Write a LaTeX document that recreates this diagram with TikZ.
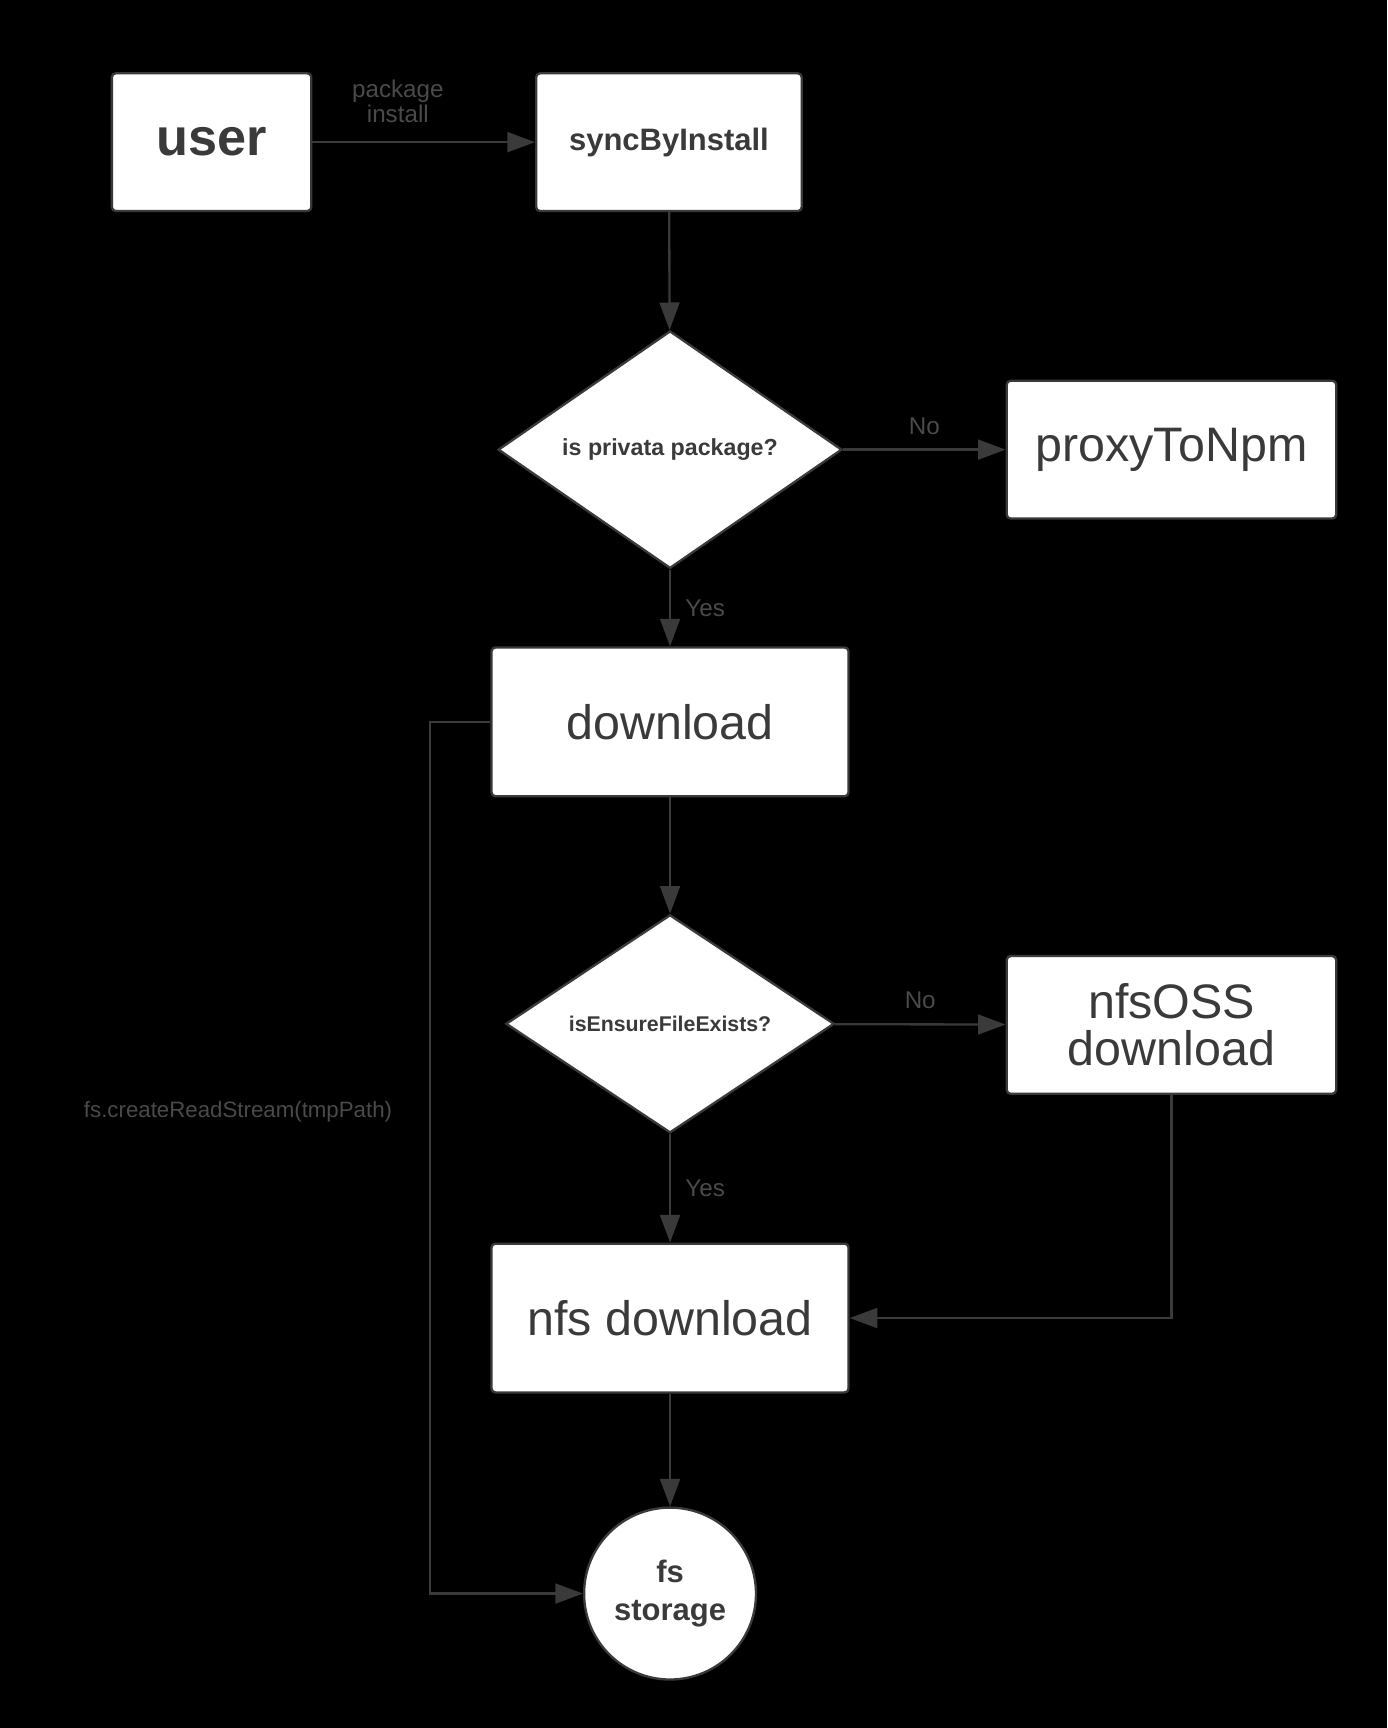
\documentclass[tikz,border=0pt]{standalone}
\usepackage{fontspec}
\setmainfont{Liberation Sans}
\usetikzlibrary{shapes.geometric,arrows.meta,positioning}
\definecolor{edge}{HTML}{3A3A3A}
\definecolor{labelgray}{HTML}{4A4A4A}
\tikzset{
  box/.style={draw=edge,line width=1.2pt,fill=white,rounded corners=2pt,text=edge,align=center},
  decision/.style={diamond,draw=edge,line width=1.2pt,fill=white,inner sep=0pt,text=edge,font=\bfseries\fontsize{12}{14}\selectfont},
  flow/.style={draw=edge,line width=1.2pt,-{Triangle[length=0.5cm,width=0.36cm]}},
  tag/.style={text=labelgray,font=\fontsize{12.5}{15}\selectfont,align=center}
}
\begin{document}
\begin{tikzpicture}[x=0.02cm,y=-0.02cm]
  \fill[black] (0,0) rectangle (1259,1568);
  \useasboundingbox (0,0) rectangle (1259,1568);
  % top row
  \node[box,minimum width=3.62cm,minimum height=2.5cm,font=\bfseries\fontsize{27}{30}\selectfont] (user) at (192,129) {user};
  \node[box,minimum width=4.82cm,minimum height=2.5cm,font=\bfseries\fontsize{16}{19}\selectfont] (sync) at (607,129) {syncByInstall};
  \node[tag] (pkglabel) at (361,92) {package\\[-2pt]install};
  % first check
  \node[decision,minimum width=6.24cm,minimum height=3.2cm] (private) at (608,408) {is privata package?};
  \node[box,minimum width=5.98cm,minimum height=2.5cm,font=\fontsize{25}{28}\selectfont] (proxy) at (1063,408) {proxyToNpm};
  \node[box,minimum width=6.48cm,minimum height=2.7cm,font=\fontsize{25}{28}\selectfont] (download) at (608,655) {download};
  % second check
  \node[decision,minimum width=5.96cm,minimum height=3.76cm,font=\bfseries\fontsize{11}{13}\selectfont] (exists) at (608,929) {isEnsureFileExists?};
  \node[box,minimum width=5.98cm,minimum height=2.5cm,font=\fontsize{25}{28}\selectfont] (oss) at (1063,930) {nfsOSS\\[-4pt]download};
  \node[box,minimum width=6.48cm,minimum height=2.7cm,font=\fontsize{25}{28}\selectfont] (nfs) at (608,1196) {nfs download};
  \node[circle,draw=edge,line width=1.2pt,fill=white,minimum size=3.12cm,inner sep=0pt,align=center,text=edge,font=\bfseries\fontsize{16}{20}\selectfont] (fs) at (608,1446) {fs\\storage};
  % connectors
  \draw[flow] (user) -- (sync);
  \draw[flow] (sync) -- (private);
  \draw[flow] (private) -- node[tag,above=4pt] {No} (proxy);
  \draw[flow] (private) -- node[tag,right=4pt] {Yes} (download);
  \draw[flow] (download) -- (exists);
  \draw[flow] (exists) -- node[tag,above=4pt] {No} (oss);
  \draw[flow] (exists) -- node[tag,right=4pt] {Yes} (nfs);
  \draw[flow] (oss.south) |- (nfs.east);
  \draw[flow] (nfs) -- (fs);
  \coordinate (bend) at (390,655);
  \draw[flow] (download.west) -- (bend) |- (fs.west);
  \node[tag,font=\fontsize{11.5}{14}\selectfont] (streamlabel) at (216,1009) {fs.createReadStream(tmpPath)};
\end{tikzpicture}
\end{document}
